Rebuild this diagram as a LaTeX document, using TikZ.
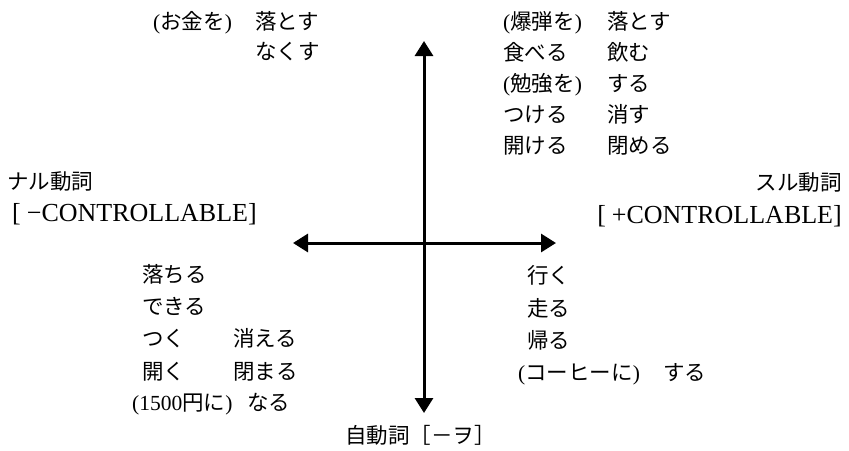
\documentclass[tikz,border=0pt]{standalone}
\usepackage{fontspec}
\setmainfont{Liberation Serif}
\newfontfamily\jpfont{Noto Sans CJK JP}
\usetikzlibrary{arrows.meta}
\newcommand\jlp{{\rmfamily(}}
\newcommand\jrp{{\rmfamily)}}
\tikzset{
  jp/.style={font=\jpfont\fontsize{21.5}{25}\selectfont, inner sep=0pt, anchor=west,
    text height=19pt, text depth=2.5pt},
  lat/.style={font=\rmfamily\fontsize{26}{30}\selectfont, inner sep=0pt, anchor=west,
    text height=22pt, text depth=4pt},
  axis/.style={line width=3pt,
    {Triangle[length=15pt,width=18pt]}-{Triangle[length=15pt,width=18pt]}}
}
\begin{document}
\begin{tikzpicture}[x=1pt,y=-1pt]
\useasboundingbox (0,0) rectangle (849,450);
% axes
\coordinate (top) at (424,41);
\coordinate (bot) at (424,413);
\coordinate (lft) at (293,243);
\coordinate (rgt) at (556,243);
\draw[axis] (bot) -- (top);
\draw[axis] (lft) -- (rgt);
% top left
\node[jp] (tla) at (153,21) {\jlp お金を\jrp};
\node[jp] (tlb) at (255,21) {落とす};
\node[jp] (tlc) at (255,51) {なくす};
% top right
\node[jp] (tr1a) at (503,21) {\jlp 爆弾を\jrp};
\node[jp] (tr1b) at (607,21) {落とす};
\node[jp] (tr2a) at (503,52) {食べる};
\node[jp] (tr2b) at (607,52) {飲む};
\node[jp] (tr3a) at (503,83) {\jlp 勉強を\jrp};
\node[jp] (tr3b) at (607,83) {する};
\node[jp] (tr4a) at (503,114) {つける};
\node[jp] (tr4b) at (607,114) {消す};
\node[jp] (tr5a) at (503,145) {開ける};
\node[jp] (tr5b) at (607,145) {閉める};
% side labels
\node[jp] (nal) at (7,181) {ナル動詞};
\node[lat] (ncon) at (12,212) {[\hspace{6pt}−CONTROLLABLE]};
\node[jp, anchor=east] (sul) at (842,182) {スル動詞};
\node[lat, anchor=east] (scon) at (842,214) {[\hspace{6pt}+CONTROLLABLE]};
% bottom left
\node[jp] (bl1) at (142,274) {落ちる};
\node[jp] (bl2) at (142,306) {できる};
\node[jp] (bl3a) at (142,338) {つく};
\node[jp] (bl3b) at (233,338) {消える};
\node[jp] (bl4a) at (142,371) {開く};
\node[jp] (bl4b) at (233,371) {閉まる};
\node[jp] (bl5a) at (132,402) {\jlp{\rmfamily 1500}円に\jrp};
\node[jp] (bl5b) at (247,402) {なる};
% bottom right
\node[jp] (br1) at (527,275) {行く};
\node[jp] (br2) at (527,308) {走る};
\node[jp] (br3) at (527,340) {帰る};
\node[jp] (br4a) at (518,372) {\jlp コーヒーに\jrp};
\node[jp] (br4b) at (663,372) {する};
% bottom label
\node[jp] (jido) at (345,435) {自動詞［－ヲ］};
\end{tikzpicture}
\end{document}
